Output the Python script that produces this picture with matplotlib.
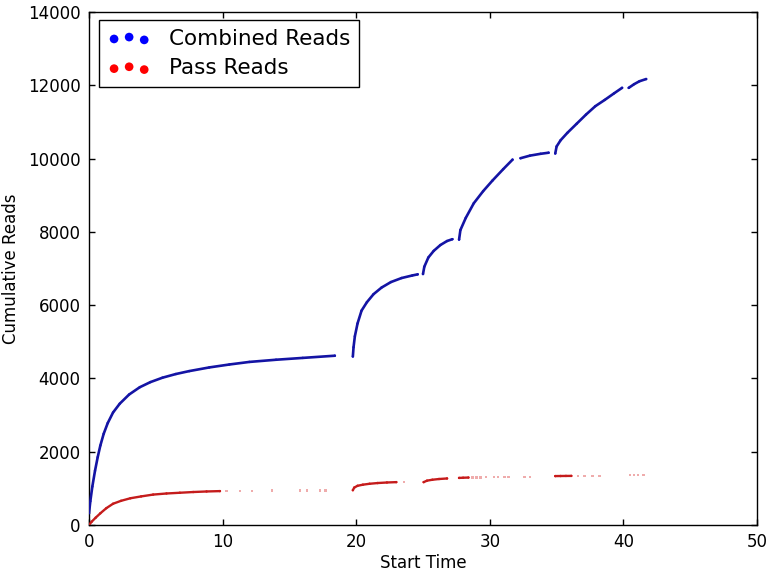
import numpy as np
import matplotlib
matplotlib.use("Agg")
import matplotlib.pyplot as plt

# ---- data ----
# Combined reads: cumulative count vs start time, segment id marks continuous runs
combined_time = [0.0, 0.1, 0.25, 0.45, 0.65, 0.85, 1.1, 1.4, 1.8, 2.3, 3.0, 3.8, 4.6, 5.5, 6.5, 7.5,
                 9.0, 10.5, 12.0, 14.0, 16.0, 18.4,
                 19.75, 19.8, 19.9, 20.1, 20.4, 20.8, 21.3, 21.9, 22.6, 23.4, 24.2, 24.6,
                 25.0, 25.1, 25.4, 25.8, 26.3, 26.8, 27.2,
                 27.7, 27.8, 28.2, 28.8, 29.5, 30.2, 31.0, 31.7,
                 32.3, 33.0, 33.8, 34.4,
                 34.9, 35.0, 35.3, 35.8, 36.5, 37.2, 37.9, 38.6, 39.3, 39.9,
                 40.4, 40.8, 41.2, 41.7]
combined_reads = [320, 650, 1050, 1480, 1850, 2170, 2490, 2780, 3070, 3310, 3560, 3760, 3900, 4020, 4120, 4200,
                  4300, 4380, 4450, 4510, 4560, 4620,
                  4600, 4850, 5150, 5500, 5850, 6080, 6300, 6480, 6630, 6740, 6810, 6840,
                  6850, 7050, 7300, 7480, 7640, 7750, 7800,
                  7790, 8050, 8380, 8780, 9110, 9400, 9710, 9970,
                  10010, 10080, 10130, 10160,
                  10140, 10330, 10500, 10700, 10950, 11200, 11430, 11600, 11780, 11930,
                  11930, 12030, 12110, 12170]
combined_segment = [1] * 22 + [2] * 12 + [3] * 7 + [4] * 8 + [5] * 4 + [6] * 10 + [7] * 4

# Pass reads: dense runs (segment > 0) and isolated sparse points (segment 0)
pass_time = [0.0, 0.2, 0.5, 0.85, 1.3, 1.8, 2.4, 3.1, 3.9, 4.8, 5.8, 6.8, 7.8, 8.8, 9.8,
             10.3, 11.3, 12.2, 13.7, 15.8, 16.3, 17.3, 17.7,
             19.75, 19.85, 20.1, 20.5, 21.0, 21.6, 22.3, 23.0,
             23.6,
             25.05, 25.3, 25.7, 26.2, 26.8,
             27.7, 28.0, 28.4,
             28.7, 29.0, 29.3, 29.7, 30.3, 30.6, 31.1, 31.4, 32.6, 33.0,
             34.9, 35.3, 35.7, 36.1,
             36.6, 37.1, 37.7, 38.2,
             40.5, 40.8, 41.1, 41.5]
pass_reads = [0, 90, 200, 320, 460, 580, 660, 730, 780, 830, 860, 880, 900, 915, 925,
              930, 932, 934, 936, 938, 938, 940, 940,
              950, 1020, 1070, 1100, 1125, 1145, 1160, 1170,
              1175,
              1170, 1210, 1235, 1255, 1270,
              1285, 1290, 1295,
              1296, 1298, 1300, 1302, 1305, 1307, 1310, 1312, 1315, 1318,
              1335, 1337, 1339, 1340,
              1341, 1342, 1343, 1344,
              1360, 1362, 1364, 1366]
pass_segment = ([1] * 15 + [0] * 8 + [2] * 8 + [0] + [3] * 5 + [4] * 3 + [0] * 10
                + [5] * 4 + [0] * 4 + [0] * 4)

x_ticks = [0, 10, 20, 30, 40, 50]
y_ticks = [0, 2000, 4000, 6000, 8000, 10000, 12000, 14000]

# ---- figure ----
plt.rcParams['font.family'] = ['DejaVu Sans']
fig = plt.figure(figsize=(7.67, 5.74), dpi=100)
ax = fig.add_axes([89 / 767, 49 / 574, 668 / 767, 513 / 574])

ct = np.array(combined_time)
cr = np.array(combined_reads)
cs = np.array(combined_segment)
pt = np.array(pass_time)
pr = np.array(pass_reads)
ps = np.array(pass_segment)

# continuous runs
for seg in np.unique(cs):
    m = cs == seg
    ax.plot(ct[m], cr[m], color='#1414a4', lw=1.9, solid_capstyle='round',
            solid_joinstyle='round', zorder=3)
for seg in np.unique(ps):
    if seg == 0:
        continue
    m = ps == seg
    ax.plot(pt[m], pr[m], color='#c41c1c', lw=1.7, solid_capstyle='round',
            solid_joinstyle='round', zorder=3)

# points (also provide legend entries)
ax.scatter(ct, cr, s=3, color='#0000ff', edgecolors='none', zorder=2, label='Combined Reads')
sparse = ps == 0
ax.scatter(pt[~sparse], pr[~sparse], s=3, color='#ff0000', edgecolors='none', zorder=2,
           label='Pass Reads')
ax.scatter(pt[sparse], pr[sparse], s=3, marker='s', color='#d83030', alpha=0.4,
           edgecolors='none', zorder=2)

ax.set_xlim(0, 50)
ax.set_ylim(0, 14000)
ax.set_xticks(x_ticks)
ax.set_yticks(y_ticks)
ax.tick_params(direction='in', top=True, right=True, length=4, width=1, labelsize=12, pad=6)
for sp in ax.spines.values():
    sp.set_linewidth(1)
    sp.set_color('black')

ax.set_xlabel('Start Time', fontsize=12, labelpad=2)
ax.set_ylabel('Cumulative Reads', fontsize=12, labelpad=6)

leg = ax.legend(loc='upper left', fontsize=15.5, scatterpoints=3, markerscale=3.6,
                fancybox=False, frameon=True, borderpad=0.4, handletextpad=0.85,
                labelspacing=0.45, borderaxespad=0.0,
                bbox_to_anchor=(10 / 668, 1 - 8 / 513))
leg.get_frame().set_edgecolor('black')
leg.get_frame().set_linewidth(1)
leg.get_frame().set_alpha(1)

fig.savefig('out.png', dpi=100)
